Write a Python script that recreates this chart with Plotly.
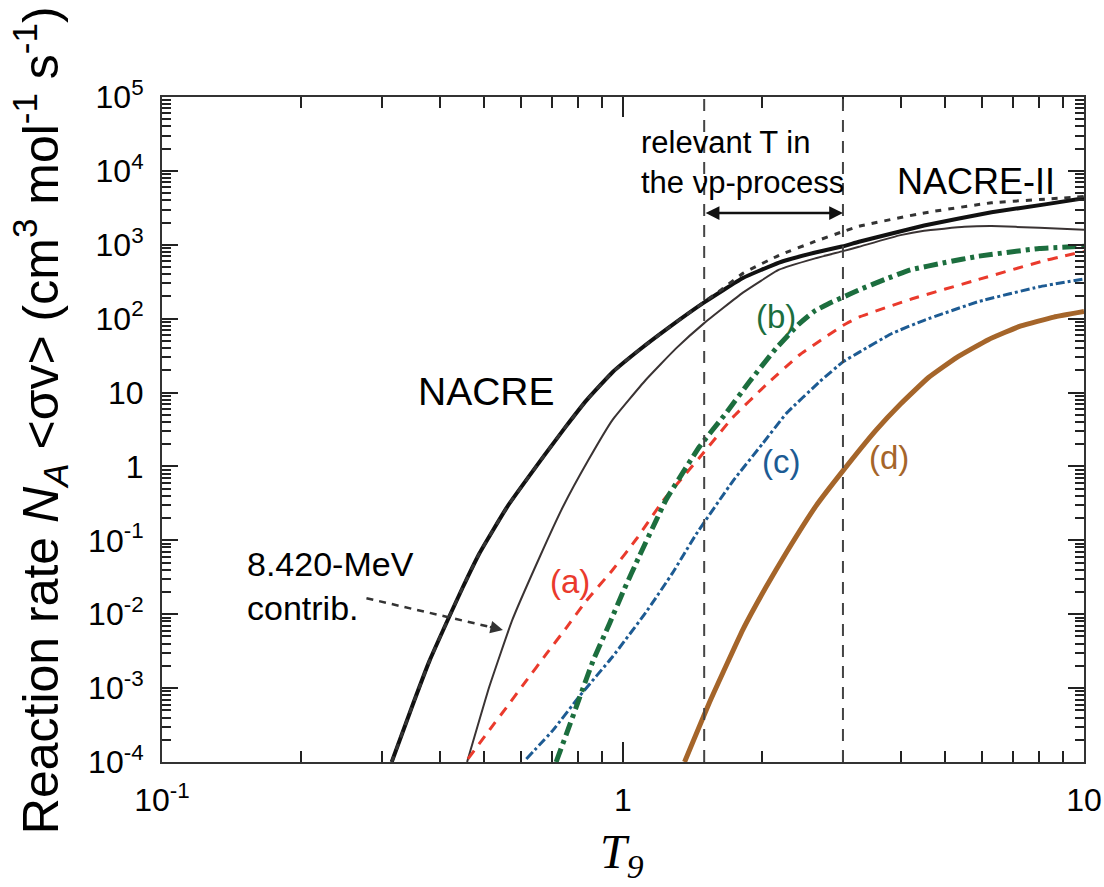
import numpy as np
import plotly.graph_objects as go

# ---------------- data ----------------
T_nacre = [0.315, 0.35, 0.38, 0.42, 0.449, 0.489, 0.56, 0.68, 0.75, 0.834, 0.95, 1.086,
           1.25, 1.5, 1.82, 2.18, 2.6, 3.0, 3.25, 4.5, 6.3, 8.3, 10]
R_nacre = [1e-4, 6e-4, 2.3e-3, 9.3e-3, 0.023, 0.068, 0.28, 1.5, 3.4, 7.9, 19, 38,
           74, 166, 355, 575, 780, 955, 1100, 1820, 2750, 3550, 4270]

T_nacre2 = [0.315, 0.35, 0.38, 0.42, 0.449, 0.489, 0.56, 0.68, 0.75, 0.834, 0.95, 1.086,
            1.25, 1.5, 1.64, 1.82, 2.18, 2.6, 3.0, 3.25, 4.5, 6.3, 8.3, 10]
R_nacre2 = [1e-4, 6e-4, 2.3e-3, 9.3e-3, 0.023, 0.068, 0.28, 1.5, 3.4, 7.9, 19, 38,
            74, 168, 250, 410, 720, 1100, 1510, 1780, 2700, 3700, 4150, 4500]

T_thin = [0.459, 0.513, 0.575, 0.66, 0.74, 0.84, 0.95, 1.12, 1.3, 1.5, 1.82, 2.18,
          2.6, 3.0, 3.25, 4.0, 4.5, 5.5, 6.3, 8.0, 10]
R_thin = [1e-4, 1.05e-3, 8.3e-3, 0.06, 0.28, 1.2, 4.3, 14.8, 39, 87, 225, 460,
          650, 820, 940, 1350, 1550, 1750, 1790, 1700, 1600]

T_a = [0.461, 0.514, 0.559, 0.617, 0.682, 0.754, 0.832, 0.95, 1.07, 1.22, 1.466,
       1.73, 2.04, 2.41, 3.0, 3.25, 4.24, 5.9, 8.26, 10]
R_a = [1.1e-4, 2.75e-4, 5.5e-4, 1.26e-3, 2.9e-3, 6.6e-3, 0.0151, 0.04, 0.105, 0.34,
       1.32, 4.6, 12.6, 32, 81, 105, 186, 339, 617, 813]

T_b = [0.716, 0.754, 0.805, 0.861, 0.936, 1.0, 1.086, 1.18, 1.24, 1.466, 1.67, 1.88,
       2.15, 2.41, 2.6, 2.85, 3.0, 3.25, 3.7, 4.2, 5.0, 5.9, 8.0, 10]
R_b = [1e-4, 2.4e-4, 7.4e-4, 2.34e-3, 7.6e-3, 0.02, 0.062, 0.186, 0.355, 1.86, 5.2,
       14, 40, 85, 126, 170, 195, 245, 340, 457, 575, 700, 890, 955]

T_c = [0.617, 0.705, 0.805, 0.951, 1.12, 1.28, 1.44, 1.73, 2.01, 2.26, 2.67, 3.0,
       3.25, 3.83, 4.5, 5.9, 8.0, 10]
R_c = [1.1e-4, 2.7e-4, 7.8e-4, 2.7e-3, 0.0105, 0.036, 0.12, 0.63, 2.05, 5.2, 14, 26,
       35, 63, 95, 170, 270, 345]

T_d = [1.36, 1.55, 1.82, 2.04, 2.26, 2.62, 2.99, 3.54, 4.0, 4.6, 5.3, 6.2, 7.3, 8.6, 10]
R_d = [1e-4, 7e-4, 6.2e-3, 0.023, 0.068, 0.29, 0.85, 3.1, 7.0, 16, 30, 52, 80, 105, 125]

T_window = [1.5, 3.0]

y_tickvals = [1e-4, 1e-3, 1e-2, 1e-1, 1, 10, 1e2, 1e3, 1e4, 1e5]
y_ticktext = ["10<sup>-4</sup>", "10<sup>-3</sup>", "10<sup>-2</sup>", "10<sup>-1</sup>",
              "1", "10", "10<sup>2</sup>", "10<sup>3</sup>", "10<sup>4</sup>", "10<sup>5</sup>"]
x_tickvals = [0.1, 1, 10]
x_ticktext = ["10<sup>-1</sup>", "1", "10"]

# ---------------- figure ----------------
SANS = "Liberation Sans, Arial, Helvetica, sans-serif"
SERIF = "Liberation Serif, Times New Roman, serif"

fig = go.Figure()

def add(T, R, color, width, dash):
    fig.add_trace(go.Scatter(x=T, y=R, mode="lines",
                             line=dict(color=color, width=width, dash=dash,
                                       shape="spline", smoothing=0.35),
                             showlegend=False, hoverinfo="skip"))

add(T_thin, R_thin, "#3a3333", 2, "solid")
add(T_d, R_d, "#a5652a", 5, "solid")
add(T_c, R_c, "#1d5b93", 3, "9px,3px,3px,3px")
add(T_a, R_a, "#ea3a2c", 3, "10px,8px")
add(T_b, R_b, "#1c6e3e", 5, "14px,5px,4px,5px")
add(T_nacre, R_nacre, "#111111", 4, "solid")
add(T_nacre2, R_nacre2, "#333333", 3, "6px,7px")

for t in T_window:
    fig.add_shape(type="line", xref="x", yref="paper",
                  x0=t, x1=t, y0=0, y1=1,
                  line=dict(color="#444444", width=2, dash="12px,9px"))

# double arrow for the relevant temperature window (annotation coords are log10)
fig.add_annotation(x=np.log10(T_window[1]), y=3.43, ax=np.log10(T_window[0]), ay=3.43,
                   xref="x", yref="y", axref="x", ayref="y", text="",
                   showarrow=True, arrowhead=2, arrowside="end+start",
                   arrowsize=1.1, arrowwidth=2.5, arrowcolor="#111111")

# dashed pointer for the 8.420-MeV contribution
fig.add_shape(type="line", xref="x", yref="y",
              x0=10 ** -0.5565, y0=10 ** -1.783, x1=10 ** -0.292, y1=10 ** -2.1665,
              line=dict(color="#333333", width=2.5, dash="7px,6px"))
fig.add_annotation(x=-0.2605, y=-2.212, ax=-0.292, ay=-2.1665,
                   xref="x", yref="y", axref="x", ayref="y", text="",
                   showarrow=True, arrowhead=2, arrowsize=1, arrowwidth=2.5,
                   arrowcolor="#333333")

def label(x, y, text, size, color="black", xanchor="center", align="center"):
    fig.add_annotation(x=x, y=y, xref="x", yref="y", text=text, showarrow=False,
                       xanchor=xanchor, yanchor="middle", align=align,
                       font=dict(family=SANS, size=size, color=color))

label(0.0357, 4.12, "relevant T in<br>the νp-process", 31, xanchor="left", align="left")
label(-0.2958, 1.008, "NACRE", 39)
label(0.766, 3.857, "NACRE-II", 36)
label(-0.82, -1.617, "8.420-MeV<br>contrib.", 34, xanchor="left", align="left")
label(-0.116, -1.563, "(a)", 33, color="#ea3a2c")
label(0.3326, 2.023, "(b)", 33, color="#1c6e3e")
label(0.343, 0.061, "(c)", 33, color="#1d5b93")
label(0.5775, 0.115, "(d)", 33, color="#a5652a")

# axis titles
fig.add_annotation(xref="paper", yref="paper", x=-0.1323, y=0.514, textangle=-90,
                   text="Reaction rate <i>N</i><sub><i>A</i></sub> &lt;σv&gt; "
                        "(cm<sup>3</sup> mol<sup>-1</sup> s<sup>-1</sup>)",
                   showarrow=False, xanchor="center", yanchor="middle",
                   font=dict(family=SANS, size=50, color="black"))
fig.add_annotation(xref="paper", yref="paper", x=0.499, y=-0.14,
                   text="<i>T</i><sub><i>9</i></sub>", showarrow=False,
                   xanchor="center", yanchor="middle",
                   font=dict(family=SERIF, size=48, color="black"))

x_minor = [m * 10.0 ** k for k in (-1, 0) for m in range(2, 10)]
y_minor = [m * 10.0 ** k for k in range(-4, 5) for m in range(2, 10)]

fig.update_xaxes(type="log", range=[-1, 1], tickmode="array",
                 tickvals=x_tickvals, ticktext=x_ticktext, automargin=False,
                 ticks="inside", ticklen=20, tickwidth=2, tickcolor="#222",
                 minor=dict(tickmode="array", tickvals=x_minor, ticks="inside",
                            ticklen=11, tickwidth=1.5, tickcolor="#222"),
                 showline=True, linecolor="#333", linewidth=2, mirror="ticks",
                 showgrid=False, zeroline=False, ticklabelstandoff=9,
                 tickfont=dict(family=SANS, size=32, color="black"))
fig.update_yaxes(type="log", range=[-4, 5], tickmode="array",
                 tickvals=y_tickvals, ticktext=y_ticktext, automargin=False,
                 ticks="inside", ticklen=16, tickwidth=2, tickcolor="#222",
                 minor=dict(tickmode="array", tickvals=y_minor, ticks="inside",
                            ticklen=9, tickwidth=1.5, tickcolor="#222"),
                 showline=True, linecolor="#333", linewidth=2, mirror="ticks",
                 showgrid=False, zeroline=False, ticklabelstandoff=10,
                 tickfont=dict(family=SANS, size=32, color="black"))

fig.update_layout(width=1104, height=887, autosize=False,
                  margin=dict(l=162, r=20, t=97, b=125, autoexpand=False),
                  paper_bgcolor="white", plot_bgcolor="white")

fig.write_html("out.html")
